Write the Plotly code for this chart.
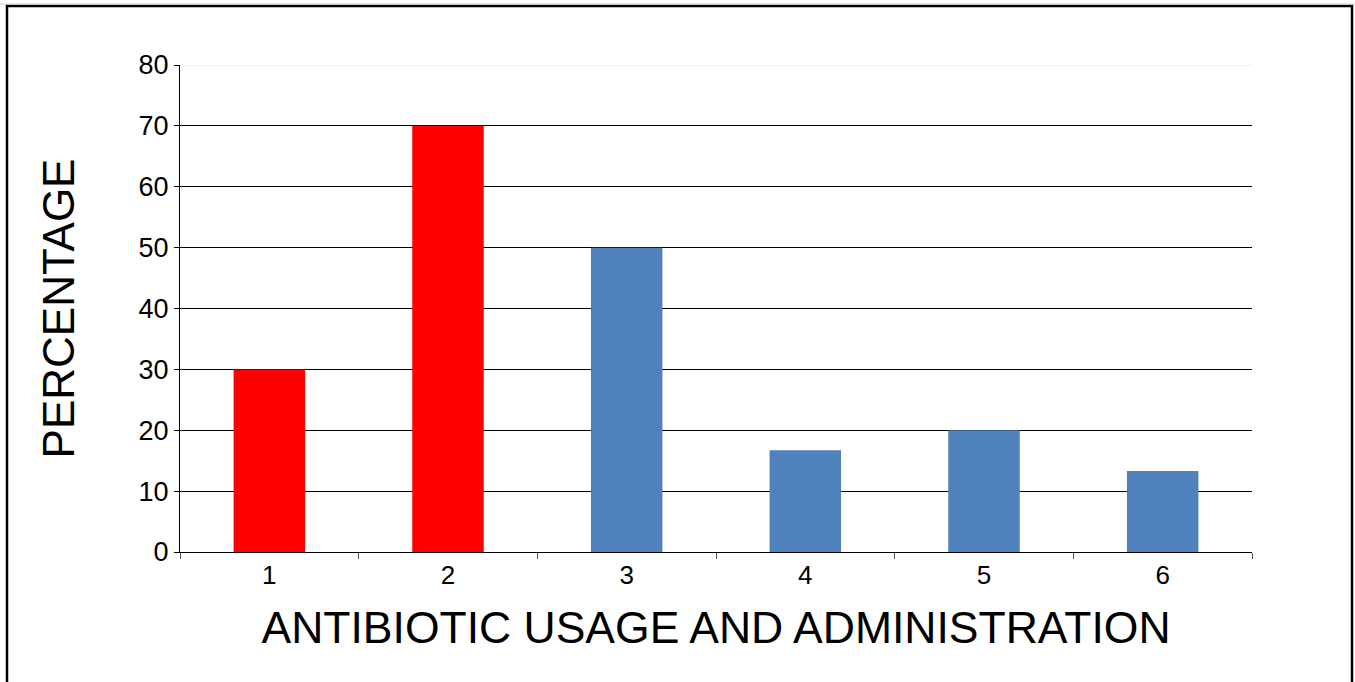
import plotly.graph_objects as go

categories = ["1", "2", "3", "4", "5", "6"]
percentages = [30, 70, 50, 16.7, 20, 13.3]
bar_colors = ["#FF0000", "#FF0000", "#4F81BD", "#4F81BD", "#4F81BD", "#4F81BD"]
y_ticks = [0, 10, 20, 30, 40, 50, 60, 70, 80]

FONT = "Liberation Sans, Arial, sans-serif"

fig = go.Figure(
    go.Bar(
        x=categories,
        y=percentages,
        marker=dict(color=bar_colors, line=dict(width=0)),
        width=0.4,
    )
)

# plot-area geometry in pixels (used for the outer frame)
W, H = 1355, 682
L, R, T, B = 180, 103, 65, 130
pw, ph = W - L - R, H - T - B

def px_x(x):
    return (x - L) / pw

def px_y(y):
    return (H - B - y) / ph

fig.update_layout(
    width=W,
    height=H,
    margin=dict(l=L, r=R, t=T, b=B),
    paper_bgcolor="white",
    plot_bgcolor="white",
    showlegend=False,
    font=dict(family=FONT, color="black"),
    xaxis=dict(
        type="category",
        showgrid=False,
        showline=True,
        linecolor="black",
        linewidth=1,
        ticks="outside",
        tickson="boundaries",
        ticklen=6,
        tickcolor="#555555",
        tickfont=dict(size=26, family=FONT),
        title=dict(text="ANTIBIOTIC USAGE AND ADMINISTRATION",
                   font=dict(size=44.5, family=FONT), standoff=22),
    ),
    yaxis=dict(
        range=[0, 80],
        tickvals=y_ticks,
        showgrid=True,
        gridcolor="black",
        gridwidth=1,
        zeroline=False,
        showline=True,
        linecolor="black",
        linewidth=1,
        ticks="outside",
        ticklen=5,
        tickcolor="black",
        tickfont=dict(size=27, family=FONT),
        title=dict(text="PERCENTAGE", font=dict(size=44, family=FONT), standoff=50),
    ),
    shapes=[
        # faint top gridline
        dict(type="line", xref="paper", yref="y", x0=0, x1=1, y0=80, y1=80,
             line=dict(color="#E6E6E6", width=1), layer="above"),
        # outer frame
        dict(type="rect", xref="paper", yref="paper",
             x0=px_x(7), x1=px_x(1352), y0=px_y(690), y1=px_y(6),
             line=dict(color="black", width=2.5), fillcolor="rgba(0,0,0,0)"),
        dict(type="line", xref="paper", yref="paper",
             x0=px_x(0), x1=px_x(W), y0=px_y(4), y1=px_y(4),
             line=dict(color="#CCCCCC", width=1)),
    ],
)

fig.write_html("out.html")
